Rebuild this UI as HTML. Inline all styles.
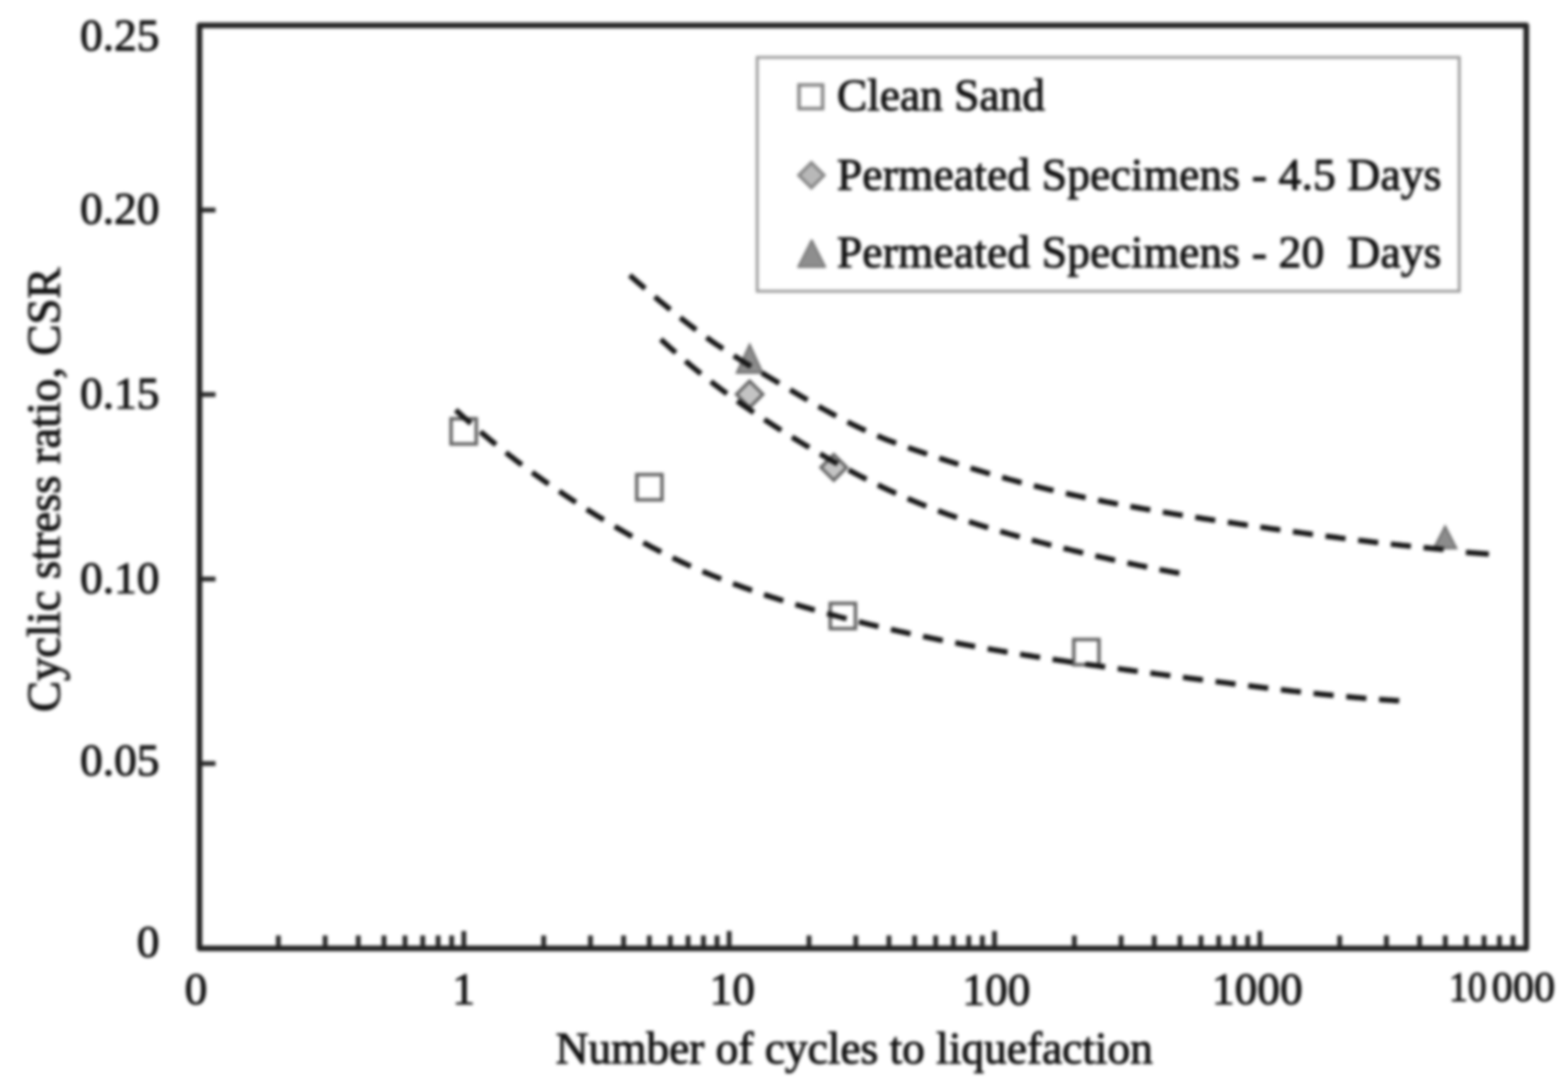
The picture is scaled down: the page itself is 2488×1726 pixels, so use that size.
<!DOCTYPE html>
<html><head><meta charset="utf-8"><title>CSR vs cycles</title>
<style>
html,body{margin:0;padding:0;background:#fff;width:2488px;height:1726px;overflow:hidden}
svg{display:block}
.t{font-family:"Liberation Serif","Times New Roman",serif;font-size:72px;fill:#111;stroke:#111;stroke-width:1.6px}
.sq{fill:none;stroke:#646464;stroke-width:5.5}
.di{fill:#c4c4c4;stroke:#636363;stroke-width:5;stroke-linejoin:miter}
.tr{fill:#8c8c8c;stroke:#6a6a6a;stroke-width:3}
.blur{filter:blur(2.4px)}
</style></head><body>
<svg width="2488" height="1726" viewBox="0 0 2488 1726">
<rect width="2488" height="1726" fill="#fff"/>
<g class="blur">
<rect x="1201.5" y="91" width="1114" height="371" fill="none" stroke="#9a9a9a" stroke-width="4.5"/>
<rect x="1267.8" y="134.8" width="37.5" height="37.5" class="sq" style="stroke:#858585"/>
<path d="M1287.5,258 L1307.5,278 L1287.5,298 L1267.5,278 Z" class="di" style="stroke:#858585;fill:#b8b8b8"/>
<path d="M1288,381 L1309.5,423.5 L1266.5,423.5 Z" fill="#8e8e8e" stroke="#767676" stroke-width="3" stroke-linejoin="round"/>
<text x="1328" y="175" class="t">Clean Sand</text>
<text x="1328" y="300.5" class="t" textLength="959">Permeated Specimens - 4.5 Days</text>
<text x="1328" y="424" class="t" textLength="959" style="white-space:pre" xml:space="preserve">Permeated Specimens - 20  Days</text>
<g><rect x="715.7" y="664.3" width="40" height="40" class="sq"/><rect x="1010.4" y="752.9" width="40" height="40" class="sq"/><rect x="1317.4" y="957.2" width="40" height="40" class="sq"/><rect x="1703.8" y="1014.5" width="40" height="40" class="sq"/><path d="M1189.5,604.5 L1210.5,625.5 L1189.5,646.5 L1168.5,625.5 Z" class="di"/><path d="M1323,721.0 L1343.5,741.5 L1323,762.0 L1302.5,741.5 Z" class="di"/><path d="M1189.5,546.5 L1210.0,591.5 L1169.0,591.5 Z" class="tr"/><path d="M2293,835.0 L2311.0,870.0 L2275.0,870.0 Z" class="tr"/></g>
<g fill="none" stroke="#151515" stroke-width="8.5" stroke-dasharray="32 20.15">
<path d="M722.0,649.5 L726.0,653.1 L730.0,656.7 L734.0,660.3 L738.0,663.9 L742.0,667.4 L746.0,670.9 L750.0,674.4 L754.0,677.9 L758.0,681.3 L762.0,684.7 L766.0,688.1 L770.0,691.4 L774.0,694.8 L778.0,698.1 L782.0,701.4 L786.0,704.6 L790.0,707.9 L794.0,711.1 L798.0,714.3 L802.0,717.4 L806.0,720.5 L810.0,723.7 L814.0,726.7 L818.0,729.8 L822.0,732.8 L826.0,735.8 L830.0,738.8 L834.0,741.8 L838.0,744.7 L842.0,747.6 L846.0,750.5 L850.0,753.4 L854.0,756.3 L858.0,759.1 L862.0,761.9 L866.0,764.7 L870.0,767.5 L874.0,770.2 L878.0,773.0 L882.0,775.7 L886.0,778.4 L890.0,781.1 L894.0,783.8 L898.0,786.5 L902.0,789.1 L906.0,791.7 L910.0,794.4 L914.0,797.0 L918.0,799.6 L922.0,802.1 L926.0,804.7 L930.0,807.3 L934.0,809.8 L938.0,812.3 L942.0,814.8 L946.0,817.3 L950.0,819.8 L954.0,822.2 L958.0,824.7 L962.0,827.1 L966.0,829.5 L970.0,831.9 L974.0,834.3 L978.0,836.7 L982.0,839.0 L986.0,841.3 L990.0,843.6 L994.0,845.9 L998.0,848.2 L1002.0,850.5 L1006.0,852.7 L1010.0,854.9 L1014.0,857.1 L1018.0,859.3 L1022.0,861.5 L1026.0,863.6 L1030.0,865.8 L1034.0,867.9 L1038.0,870.0 L1042.0,872.1 L1046.0,874.1 L1050.0,876.2 L1054.0,878.2 L1058.0,880.2 L1062.0,882.2 L1066.0,884.1 L1070.0,886.1 L1074.0,888.0 L1078.0,889.9 L1082.0,891.8 L1086.0,893.6 L1090.0,895.5 L1094.0,897.3 L1098.0,899.1 L1102.0,900.9 L1106.0,902.6 L1110.0,904.4 L1114.0,906.1 L1118.0,907.8 L1122.0,909.5 L1126.0,911.1 L1130.0,912.8 L1134.0,914.4 L1138.0,916.0 L1142.0,917.6 L1146.0,919.2 L1150.0,920.8 L1154.0,922.3 L1158.0,923.8 L1162.0,925.4 L1166.0,926.9 L1170.0,928.3 L1174.0,929.8 L1178.0,931.3 L1182.0,932.7 L1186.0,934.1 L1190.0,935.6 L1194.0,936.9 L1198.0,938.3 L1202.0,939.7 L1206.0,941.1 L1210.0,942.4 L1214.0,943.7 L1218.0,945.1 L1222.0,946.4 L1226.0,947.7 L1230.0,948.9 L1234.0,950.2 L1238.0,951.5 L1242.0,952.7 L1246.0,954.0 L1250.0,955.2 L1254.0,956.4 L1258.0,957.6 L1262.0,958.8 L1266.0,960.0 L1270.0,961.2 L1274.0,962.4 L1278.0,963.6 L1282.0,964.7 L1286.0,965.9 L1290.0,967.0 L1294.0,968.1 L1298.0,969.3 L1302.0,970.4 L1306.0,971.5 L1310.0,972.6 L1314.0,973.7 L1318.0,974.8 L1322.0,975.8 L1326.0,976.9 L1330.0,978.0 L1334.0,979.0 L1338.0,980.1 L1342.0,981.1 L1346.0,982.1 L1350.0,983.2 L1354.0,984.2 L1358.0,985.2 L1362.0,986.2 L1366.0,987.2 L1370.0,988.2 L1374.0,989.1 L1378.0,990.1 L1382.0,991.1 L1386.0,992.0 L1390.0,993.0 L1394.0,993.9 L1398.0,994.9 L1402.0,995.8 L1406.0,996.7 L1410.0,997.7 L1414.0,998.6 L1418.0,999.5 L1422.0,1000.4 L1426.0,1001.3 L1430.0,1002.2 L1434.0,1003.0 L1438.0,1003.9 L1442.0,1004.8 L1446.0,1005.7 L1450.0,1006.5 L1454.0,1007.4 L1458.0,1008.2 L1462.0,1009.0 L1466.0,1009.9 L1470.0,1010.7 L1474.0,1011.5 L1478.0,1012.3 L1482.0,1013.2 L1486.0,1014.0 L1490.0,1014.8 L1494.0,1015.6 L1498.0,1016.3 L1502.0,1017.1 L1506.0,1017.9 L1510.0,1018.7 L1514.0,1019.4 L1518.0,1020.2 L1522.0,1021.0 L1526.0,1021.7 L1530.0,1022.5 L1534.0,1023.2 L1538.0,1023.9 L1542.0,1024.7 L1546.0,1025.4 L1550.0,1026.1 L1554.0,1026.8 L1558.0,1027.6 L1562.0,1028.3 L1566.0,1029.0 L1570.0,1029.7 L1574.0,1030.4 L1578.0,1031.1 L1582.0,1031.8 L1586.0,1032.4 L1590.0,1033.1 L1594.0,1033.8 L1598.0,1034.5 L1602.0,1035.1 L1606.0,1035.8 L1610.0,1036.5 L1614.0,1037.1 L1618.0,1037.8 L1622.0,1038.4 L1626.0,1039.1 L1630.0,1039.7 L1634.0,1040.3 L1638.0,1041.0 L1642.0,1041.6 L1646.0,1042.2 L1650.0,1042.9 L1654.0,1043.5 L1658.0,1044.1 L1662.0,1044.7 L1666.0,1045.3 L1670.0,1045.9 L1674.0,1046.5 L1678.0,1047.1 L1682.0,1047.7 L1686.0,1048.3 L1690.0,1048.9 L1694.0,1049.5 L1698.0,1050.1 L1702.0,1050.7 L1706.0,1051.3 L1710.0,1051.8 L1714.0,1052.4 L1718.0,1053.0 L1722.0,1053.6 L1726.0,1054.1 L1730.0,1054.7 L1734.0,1055.3 L1738.0,1055.8 L1742.0,1056.4 L1746.0,1057.0 L1750.0,1057.5 L1754.0,1058.1 L1758.0,1058.6 L1762.0,1059.2 L1766.0,1059.7 L1770.0,1060.3 L1774.0,1060.8 L1778.0,1061.4 L1782.0,1061.9 L1786.0,1062.5 L1790.0,1063.0 L1794.0,1063.5 L1798.0,1064.1 L1802.0,1064.6 L1806.0,1065.1 L1810.0,1065.7 L1814.0,1066.2 L1818.0,1066.7 L1822.0,1067.3 L1826.0,1067.8 L1830.0,1068.3 L1834.0,1068.9 L1838.0,1069.4 L1842.0,1069.9 L1846.0,1070.4 L1850.0,1071.0 L1854.0,1071.5 L1858.0,1072.0 L1862.0,1072.5 L1866.0,1073.1 L1870.0,1073.6 L1874.0,1074.1 L1878.0,1074.6 L1882.0,1075.1 L1886.0,1075.7 L1890.0,1076.2 L1894.0,1076.7 L1898.0,1077.2 L1902.0,1077.7 L1906.0,1078.3 L1910.0,1078.8 L1914.0,1079.3 L1918.0,1079.8 L1922.0,1080.3 L1926.0,1080.9 L1930.0,1081.4 L1934.0,1081.9 L1938.0,1082.4 L1942.0,1082.9 L1946.0,1083.4 L1950.0,1083.9 L1954.0,1084.5 L1958.0,1085.0 L1962.0,1085.5 L1966.0,1086.0 L1970.0,1086.5 L1974.0,1087.0 L1978.0,1087.5 L1982.0,1088.0 L1986.0,1088.5 L1990.0,1089.0 L1994.0,1089.5 L1998.0,1090.0 L2002.0,1090.5 L2006.0,1091.0 L2010.0,1091.4 L2014.0,1091.9 L2018.0,1092.4 L2022.0,1092.9 L2026.0,1093.4 L2030.0,1093.8 L2034.0,1094.3 L2038.0,1094.8 L2042.0,1095.2 L2046.0,1095.7 L2050.0,1096.2 L2054.0,1096.6 L2058.0,1097.1 L2062.0,1097.5 L2066.0,1098.0 L2070.0,1098.4 L2074.0,1098.8 L2078.0,1099.3 L2082.0,1099.7 L2086.0,1100.1 L2090.0,1100.6 L2094.0,1101.0 L2098.0,1101.4 L2102.0,1101.8 L2106.0,1102.2 L2110.0,1102.6 L2114.0,1103.0 L2118.0,1103.4 L2122.0,1103.8 L2126.0,1104.2 L2130.0,1104.6 L2134.0,1105.0 L2138.0,1105.3 L2142.0,1105.7 L2146.0,1106.1 L2150.0,1106.4 L2154.0,1106.8 L2158.0,1107.1 L2162.0,1107.5 L2166.0,1107.8 L2170.0,1108.1 L2174.0,1108.4 L2178.0,1108.8 L2182.0,1109.1 L2186.0,1109.4 L2190.0,1109.7 L2194.0,1110.0 L2198.0,1110.3 L2202.0,1110.6 L2206.0,1110.8 L2210.0,1111.1 L2214.0,1111.4 L2218.0,1111.6 L2221.4,1111.9" stroke-dasharray="32 20.20" stroke-dashoffset="50.7"/>
<path d="M1045.2,535.2 L1049.2,538.9 L1053.2,542.6 L1057.2,546.2 L1061.2,549.8 L1065.2,553.4 L1069.2,556.9 L1073.2,560.4 L1077.2,563.9 L1081.2,567.3 L1085.2,570.7 L1089.2,574.1 L1093.2,577.4 L1097.2,580.7 L1101.2,584.0 L1105.2,587.3 L1109.2,590.5 L1113.2,593.7 L1117.2,596.9 L1121.2,600.0 L1125.2,603.1 L1129.2,606.2 L1133.2,609.3 L1137.2,612.3 L1141.2,615.3 L1145.2,618.3 L1149.2,621.3 L1153.2,624.2 L1157.2,627.1 L1161.2,630.0 L1165.2,632.9 L1169.2,635.7 L1173.2,638.6 L1177.2,641.4 L1181.2,644.2 L1185.2,646.9 L1189.2,649.7 L1193.2,652.4 L1197.2,655.1 L1201.2,657.8 L1205.2,660.4 L1209.2,663.1 L1213.2,665.7 L1217.2,668.3 L1221.2,670.9 L1225.2,673.5 L1229.2,676.1 L1233.2,678.6 L1237.2,681.2 L1241.2,683.7 L1245.2,686.2 L1249.2,688.7 L1253.2,691.2 L1257.2,693.6 L1261.2,696.1 L1265.2,698.5 L1269.2,701.0 L1273.2,703.4 L1277.2,705.8 L1281.2,708.2 L1285.2,710.6 L1289.2,713.0 L1293.2,715.3 L1297.2,717.7 L1301.2,720.0 L1305.2,722.3 L1309.2,724.6 L1313.2,726.9 L1317.2,729.2 L1321.2,731.5 L1325.2,733.7 L1329.2,736.0 L1333.2,738.2 L1337.2,740.4 L1341.2,742.6 L1345.2,744.8 L1349.2,746.9 L1353.2,749.0 L1357.2,751.2 L1361.2,753.3 L1365.2,755.4 L1369.2,757.4 L1373.2,759.5 L1377.2,761.5 L1381.2,763.5 L1385.2,765.5 L1389.2,767.5 L1393.2,769.4 L1397.2,771.4 L1401.2,773.3 L1405.2,775.2 L1409.2,777.1 L1413.2,778.9 L1417.2,780.7 L1421.2,782.6 L1425.2,784.3 L1429.2,786.1 L1433.2,787.9 L1437.2,789.6 L1441.2,791.3 L1445.2,793.0 L1449.2,794.7 L1453.2,796.4 L1457.2,798.0 L1461.2,799.6 L1465.2,801.2 L1469.2,802.8 L1473.2,804.4 L1477.2,806.0 L1481.2,807.5 L1485.2,809.0 L1489.2,810.5 L1493.2,812.0 L1497.2,813.5 L1501.2,814.9 L1505.2,816.4 L1509.2,817.8 L1513.2,819.2 L1517.2,820.6 L1521.2,822.0 L1525.2,823.4 L1529.2,824.7 L1533.2,826.1 L1537.2,827.4 L1541.2,828.7 L1545.2,830.0 L1549.2,831.3 L1553.2,832.6 L1557.2,833.8 L1561.2,835.1 L1565.2,836.3 L1569.2,837.5 L1573.2,838.8 L1577.2,840.0 L1581.2,841.2 L1585.2,842.3 L1589.2,843.5 L1593.2,844.7 L1597.2,845.8 L1601.2,847.0 L1605.2,848.1 L1609.2,849.2 L1613.2,850.3 L1617.2,851.4 L1621.2,852.5 L1625.2,853.6 L1629.2,854.7 L1633.2,855.8 L1637.2,856.8 L1641.2,857.9 L1645.2,858.9 L1649.2,860.0 L1653.2,861.0 L1657.2,862.0 L1661.2,863.1 L1665.2,864.1 L1669.2,865.1 L1673.2,866.1 L1677.2,867.1 L1681.2,868.1 L1685.2,869.1 L1689.2,870.1 L1693.2,871.0 L1697.2,872.0 L1701.2,873.0 L1705.2,874.0 L1709.2,874.9 L1713.2,875.9 L1717.2,876.8 L1721.2,877.8 L1725.2,878.7 L1729.2,879.7 L1733.2,880.6 L1737.2,881.5 L1741.2,882.5 L1745.2,883.4 L1749.2,884.3 L1753.2,885.2 L1757.2,886.1 L1761.2,887.0 L1765.2,887.9 L1769.2,888.8 L1773.2,889.7 L1777.2,890.6 L1781.2,891.5 L1785.2,892.3 L1789.2,893.2 L1793.2,894.0 L1797.2,894.9 L1801.2,895.7 L1805.2,896.6 L1809.2,897.4 L1813.2,898.2 L1817.2,899.0 L1821.2,899.9 L1825.2,900.7 L1829.2,901.5 L1833.2,902.2 L1837.2,903.0 L1841.2,903.8 L1845.2,904.6 L1849.2,905.3 L1853.2,906.1 L1857.2,906.8 L1861.2,907.6 L1865.2,908.3 L1869.2,909.0 L1871.5,909.4" stroke-dasharray="32 20.00" stroke-dashoffset="47.5"/>
<path d="M997.6,435.4 L1001.6,438.8 L1005.6,442.3 L1009.6,445.8 L1013.6,449.2 L1017.6,452.6 L1021.6,456.1 L1025.6,459.5 L1029.6,462.9 L1033.6,466.3 L1037.6,469.7 L1041.6,473.0 L1045.6,476.4 L1049.6,479.7 L1053.6,483.0 L1057.6,486.3 L1061.6,489.6 L1065.6,492.8 L1069.6,496.1 L1073.6,499.3 L1077.6,502.5 L1081.6,505.6 L1085.6,508.8 L1089.6,511.9 L1093.6,515.0 L1097.6,518.0 L1101.6,521.1 L1105.6,524.1 L1109.6,527.0 L1113.6,530.0 L1117.6,532.9 L1121.6,535.8 L1125.6,538.6 L1129.6,541.4 L1133.6,544.2 L1137.6,546.9 L1141.6,549.6 L1145.6,552.3 L1149.6,554.9 L1153.6,557.5 L1157.6,560.1 L1161.6,562.7 L1165.6,565.2 L1169.6,567.7 L1173.6,570.2 L1177.6,572.7 L1181.6,575.1 L1185.6,577.6 L1189.6,580.0 L1193.6,582.4 L1197.6,584.8 L1201.6,587.2 L1205.6,589.6 L1209.6,592.0 L1213.6,594.4 L1217.6,596.8 L1221.6,599.2 L1225.6,601.6 L1229.6,603.9 L1233.6,606.3 L1237.6,608.7 L1241.6,611.1 L1245.6,613.5 L1249.6,615.9 L1253.6,618.3 L1257.6,620.7 L1261.6,623.0 L1265.6,625.4 L1269.6,627.7 L1273.6,630.1 L1277.6,632.4 L1281.6,634.7 L1285.6,637.0 L1289.6,639.3 L1293.6,641.6 L1297.6,643.9 L1301.6,646.2 L1305.6,648.4 L1309.6,650.6 L1313.6,652.8 L1317.6,655.0 L1321.6,657.2 L1325.6,659.3 L1329.6,661.4 L1333.6,663.5 L1337.6,665.6 L1341.6,667.7 L1345.6,669.7 L1349.6,671.7 L1353.6,673.7 L1357.6,675.6 L1361.6,677.6 L1365.6,679.5 L1369.6,681.4 L1373.6,683.2 L1377.6,685.0 L1381.6,686.8 L1385.6,688.6 L1389.6,690.3 L1393.6,692.0 L1397.6,693.7 L1401.6,695.4 L1405.6,697.0 L1409.6,698.6 L1413.6,700.1 L1417.6,701.6 L1421.6,703.1 L1425.6,704.6 L1429.6,706.0 L1433.6,707.5 L1437.6,708.9 L1441.6,710.3 L1445.6,711.7 L1449.6,713.0 L1453.6,714.4 L1457.6,715.8 L1461.6,717.1 L1465.6,718.5 L1469.6,719.8 L1473.6,721.1 L1477.6,722.5 L1481.6,723.8 L1485.6,725.1 L1489.6,726.4 L1493.6,727.8 L1497.6,729.1 L1501.6,730.4 L1505.6,731.7 L1509.6,732.9 L1513.6,734.2 L1517.6,735.5 L1521.6,736.8 L1525.6,738.0 L1529.6,739.3 L1533.6,740.5 L1537.6,741.8 L1541.6,743.0 L1545.6,744.2 L1549.6,745.4 L1553.6,746.6 L1557.6,747.8 L1561.6,749.0 L1565.6,750.2 L1569.6,751.4 L1573.6,752.6 L1577.6,753.7 L1581.6,754.9 L1585.6,756.0 L1589.6,757.1 L1593.6,758.2 L1597.6,759.4 L1601.6,760.5 L1605.6,761.5 L1609.6,762.6 L1613.6,763.7 L1617.6,764.8 L1621.6,765.8 L1625.6,766.9 L1629.6,767.9 L1633.6,768.9 L1637.6,769.9 L1641.6,770.9 L1645.6,771.9 L1649.6,772.9 L1653.6,773.9 L1657.6,774.9 L1661.6,775.8 L1665.6,776.8 L1669.6,777.7 L1673.6,778.7 L1677.6,779.6 L1681.6,780.5 L1685.6,781.4 L1689.6,782.3 L1693.6,783.2 L1697.6,784.1 L1701.6,785.0 L1705.6,785.9 L1709.6,786.7 L1713.6,787.6 L1717.6,788.4 L1721.6,789.3 L1725.6,790.1 L1729.6,790.9 L1733.6,791.8 L1737.6,792.6 L1741.6,793.4 L1745.6,794.2 L1749.6,795.0 L1753.6,795.8 L1757.6,796.6 L1761.6,797.3 L1765.6,798.1 L1769.6,798.9 L1773.6,799.6 L1777.6,800.4 L1781.6,801.1 L1785.6,801.9 L1789.6,802.6 L1793.6,803.4 L1797.6,804.1 L1801.6,804.8 L1805.6,805.5 L1809.6,806.2 L1813.6,806.9 L1817.6,807.6 L1821.6,808.3 L1825.6,809.0 L1829.6,809.7 L1833.6,810.4 L1837.6,811.1 L1841.6,811.7 L1845.6,812.4 L1849.6,813.1 L1853.6,813.7 L1857.6,814.4 L1861.6,815.1 L1865.6,815.7 L1869.6,816.4 L1873.6,817.0 L1877.6,817.6 L1881.6,818.3 L1885.6,818.9 L1889.6,819.5 L1893.6,820.2 L1897.6,820.8 L1901.6,821.4 L1905.6,822.0 L1909.6,822.7 L1913.6,823.3 L1917.6,823.9 L1921.6,824.5 L1925.6,825.1 L1929.6,825.7 L1933.6,826.3 L1937.6,826.9 L1941.6,827.5 L1945.6,828.1 L1949.6,828.7 L1953.6,829.3 L1957.6,829.9 L1961.6,830.5 L1965.6,831.1 L1969.6,831.7 L1973.6,832.3 L1977.6,832.9 L1981.6,833.4 L1985.6,834.0 L1989.6,834.6 L1993.6,835.2 L1997.6,835.8 L2001.6,836.4 L2005.6,836.9 L2009.6,837.5 L2013.6,838.1 L2017.6,838.7 L2021.6,839.2 L2025.6,839.8 L2029.6,840.4 L2033.6,840.9 L2037.6,841.5 L2041.6,842.1 L2045.6,842.6 L2049.6,843.2 L2053.6,843.7 L2057.6,844.3 L2061.6,844.8 L2065.6,845.4 L2069.6,845.9 L2073.6,846.5 L2077.6,847.0 L2081.6,847.6 L2085.6,848.1 L2089.6,848.6 L2093.6,849.2 L2097.6,849.7 L2101.6,850.2 L2105.6,850.8 L2109.6,851.3 L2113.6,851.8 L2117.6,852.3 L2121.6,852.8 L2125.6,853.4 L2129.6,853.9 L2133.6,854.4 L2137.6,854.9 L2141.6,855.4 L2145.6,855.9 L2149.6,856.4 L2153.6,856.9 L2157.6,857.4 L2161.6,857.8 L2165.6,858.3 L2169.6,858.8 L2173.6,859.3 L2177.6,859.8 L2181.6,860.2 L2185.6,860.7 L2189.6,861.2 L2193.6,861.6 L2197.6,862.1 L2201.6,862.5 L2205.6,863.0 L2209.6,863.4 L2213.6,863.9 L2217.6,864.3 L2221.6,864.7 L2225.6,865.2 L2229.6,865.6 L2233.6,866.0 L2237.6,866.4 L2241.6,866.9 L2245.6,867.3 L2249.6,867.7 L2253.6,868.1 L2257.6,868.5 L2261.6,868.9 L2265.6,869.3 L2269.6,869.7 L2273.6,870.0 L2277.6,870.4 L2281.6,870.8 L2285.6,871.2 L2289.6,871.5 L2293.6,871.9 L2297.6,872.2 L2300.0,872.5" stroke-dasharray="32 20.20" stroke-dashoffset="49.95"/>
<path d="M2326,876.2 L2362.4,878.9" stroke-dasharray="none"/>
</g>
<g stroke="#262626" stroke-width="7.5" fill="none"><line x1="441.7" y1="1504" x2="441.7" y2="1484"/><line x1="515.9" y1="1504" x2="515.9" y2="1484"/><line x1="568.5" y1="1504" x2="568.5" y2="1484"/><line x1="609.3" y1="1504" x2="609.3" y2="1484"/><line x1="642.6" y1="1504" x2="642.6" y2="1484"/><line x1="670.8" y1="1504" x2="670.8" y2="1484"/><line x1="695.2" y1="1504" x2="695.2" y2="1484"/><line x1="716.7" y1="1504" x2="716.7" y2="1484"/><line x1="862.7" y1="1504" x2="862.7" y2="1484"/><line x1="936.9" y1="1504" x2="936.9" y2="1484"/><line x1="989.5" y1="1504" x2="989.5" y2="1484"/><line x1="1030.3" y1="1504" x2="1030.3" y2="1484"/><line x1="1063.6" y1="1504" x2="1063.6" y2="1484"/><line x1="1091.8" y1="1504" x2="1091.8" y2="1484"/><line x1="1116.2" y1="1504" x2="1116.2" y2="1484"/><line x1="1137.7" y1="1504" x2="1137.7" y2="1484"/><line x1="1283.7" y1="1504" x2="1283.7" y2="1484"/><line x1="1357.9" y1="1504" x2="1357.9" y2="1484"/><line x1="1410.5" y1="1504" x2="1410.5" y2="1484"/><line x1="1451.3" y1="1504" x2="1451.3" y2="1484"/><line x1="1484.6" y1="1504" x2="1484.6" y2="1484"/><line x1="1512.8" y1="1504" x2="1512.8" y2="1484"/><line x1="1537.2" y1="1504" x2="1537.2" y2="1484"/><line x1="1558.7" y1="1504" x2="1558.7" y2="1484"/><line x1="1704.7" y1="1504" x2="1704.7" y2="1484"/><line x1="1778.9" y1="1504" x2="1778.9" y2="1484"/><line x1="1831.5" y1="1504" x2="1831.5" y2="1484"/><line x1="1872.3" y1="1504" x2="1872.3" y2="1484"/><line x1="1905.6" y1="1504" x2="1905.6" y2="1484"/><line x1="1933.8" y1="1504" x2="1933.8" y2="1484"/><line x1="1958.2" y1="1504" x2="1958.2" y2="1484"/><line x1="1979.7" y1="1504" x2="1979.7" y2="1484"/><line x1="2125.7" y1="1504" x2="2125.7" y2="1484"/><line x1="2199.9" y1="1504" x2="2199.9" y2="1484"/><line x1="2252.5" y1="1504" x2="2252.5" y2="1484"/><line x1="2293.3" y1="1504" x2="2293.3" y2="1484"/><line x1="2326.6" y1="1504" x2="2326.6" y2="1484"/><line x1="2354.8" y1="1504" x2="2354.8" y2="1484"/><line x1="2379.2" y1="1504" x2="2379.2" y2="1484"/><line x1="2400.7" y1="1504" x2="2400.7" y2="1484"/><line x1="736.0" y1="1504" x2="736.0" y2="1477"/><line x1="1157.0" y1="1504" x2="1157.0" y2="1477"/><line x1="1578.0" y1="1504" x2="1578.0" y2="1477"/><line x1="1999.0" y1="1504" x2="1999.0" y2="1477"/><line x1="316" y1="1211.3" x2="342" y2="1211.3"/><line x1="316" y1="918.6" x2="342" y2="918.6"/><line x1="316" y1="625.9" x2="342" y2="625.9"/><line x1="316" y1="333.2" x2="342" y2="333.2"/></g>
<path d="M316.5,40.3 H2421.8 V1504.5 H316.5 Z" fill="none" stroke="#242424" stroke-width="9" stroke-linejoin="round"/>
<text x="253" y="79.7" class="t" text-anchor="end">0.25</text>
<text x="253" y="354.5" class="t" text-anchor="end">0.20</text>
<text x="253" y="648.4" class="t" text-anchor="end">0.15</text>
<text x="253" y="941" class="t" text-anchor="end">0.10</text>
<text x="253" y="1230" class="t" text-anchor="end">0.05</text>
<text x="253" y="1517.5" class="t" text-anchor="end">0</text>
<text x="311" y="1593" class="t" text-anchor="middle">0</text>
<text x="735.7" y="1593" class="t" text-anchor="middle">1</text>
<text x="1162" y="1593" class="t" text-anchor="middle">10</text>
<text x="1581" y="1593.5" class="t" text-anchor="middle">100</text>
<text x="1995" y="1592.7" class="t" text-anchor="middle">1000</text>
<text x="2299" y="1588" class="t" style="font-size:67px" textLength="60" lengthAdjust="spacingAndGlyphs">10</text><text x="2367" y="1588" class="t" style="font-size:67px">000</text>
<text x="1355.5" y="1686.5" class="t" text-anchor="middle">Number of cycles to liquefaction</text>
<text transform="translate(94.5,777) rotate(-90)" class="t" text-anchor="middle" style="font-size:73.8px">Cyclic stress ratio, CSR</text>
</g></svg>
</body></html>
